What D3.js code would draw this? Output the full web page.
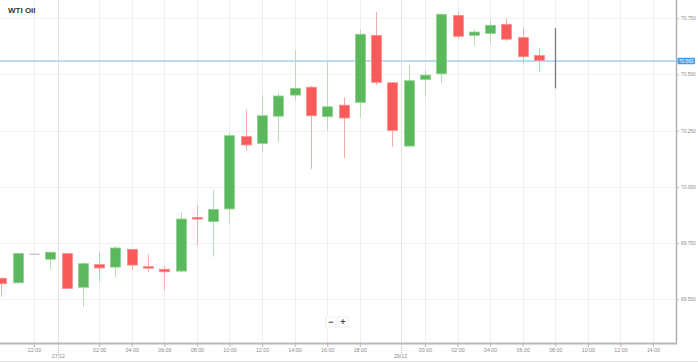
<!DOCTYPE html>
<html>
<head>
<meta charset="utf-8">
<script src="https://cdn.jsdelivr.net/npm/d3@7"></script>
<style>
  html, body { margin: 0; padding: 0; background: #fff; }
  svg { display: block; font-family: "Liberation Sans", Arial, sans-serif; }
</style>
</head>
<body>
<svg id="chart" width="698" height="362"></svg>
<script>
// ---- data ----
const title = "WTI Oil";
const times = ["20:00","21:00","22:00","23:00","00:00","01:00","02:00","03:00","04:00","05:00",
               "06:00","07:00","08:00","09:00","10:00","11:00","12:00","13:00","14:00","15:00",
               "16:00","17:00","18:00","19:00","20:00","23:00","00:00","01:00","02:00","03:00",
               "04:00","05:00","06:00","07:00","08:00"];
const open  = [69.592,69.572,69.702,69.677,69.702,69.552,69.653,69.642,69.721,69.644,
               69.632,69.624,69.863,69.845,69.901,70.223,70.193,70.314,70.408,70.443,
               70.312,70.363,70.376,70.674,70.463,70.181,70.478,70.503,70.763,70.674,
               70.683,70.723,70.664,70.584,70.560];
const high  = [69.595,69.705,69.702,69.710,69.704,69.666,69.708,69.736,69.722,69.699,
               69.647,69.887,69.918,69.988,70.241,70.342,70.408,70.419,70.609,70.450,
               70.560,70.398,70.701,70.778,70.465,70.542,70.520,70.770,70.778,70.701,
               70.739,70.750,70.710,70.619,70.706];
const low   = [69.510,69.570,69.702,69.633,69.545,69.465,69.579,69.598,69.629,69.619,
               69.540,69.619,69.737,69.688,69.837,70.160,70.153,70.199,70.383,70.080,
               70.249,70.128,70.309,70.453,70.178,70.179,70.401,70.461,70.659,70.630,
               70.639,70.650,70.550,70.511,70.438];
const close = [69.568,69.703,69.702,69.708,69.547,69.657,69.638,69.727,69.651,69.637,
               69.621,69.856,69.856,69.899,70.227,70.186,70.316,70.404,70.438,70.316,
               70.356,70.306,70.679,70.465,70.251,70.472,70.497,70.768,70.670,70.689,
               70.719,70.657,70.579,70.563,70.560];
const currentPrice = 70.560;
const yTicks = [69.5, 69.75, 70.0, 70.25, 70.5, 70.75];
const xTickIndex  = [2, 6, 8, 10, 12, 14, 16, 18, 20, 22, 26, 28, 30, 32, 34, 36, 38, 40];
const xTickLabels = ["22:00","02:00","04:00","06:00","08:00","10:00","12:00","14:00","16:00","18:00",
                     "00:00","02:00","04:00","06:00","08:00","10:00","12:00","14:00"];
const dayIndex  = [3.5, 24.5];
const dayLabels = ["27/12", "29/12"];

// ---- layout ----
const svg = d3.select("#chart");
const plotW = 676, plotH = 343;
const x = d3.scaleLinear().domain([-0.086, 41.41]).range([0, plotW]);
const y = d3.scaleLinear().domain([69.3038, 70.8316]).range([plotH, 0]);

const candles = times.map((t, i) => ({i, t, o: open[i], h: high[i], l: low[i], c: close[i]}));

// grid
const grid = svg.append("g");
grid.selectAll("line.hy").data(yTicks).join("line")
  .attr("x1", 0).attr("x2", plotW)
  .attr("y1", d => Math.round(y(d)) + 0.5).attr("y2", d => Math.round(y(d)) + 0.5)
  .attr("stroke", "#f2f2f2").attr("stroke-width", 1);
grid.selectAll("line.vx").data(xTickIndex).join("line")
  .attr("x1", d => Math.round(x(d)) + 0.5).attr("x2", d => Math.round(x(d)) + 0.5)
  .attr("y1", 0).attr("y2", plotH)
  .attr("stroke", "#efefef").attr("stroke-width", 1);
grid.selectAll("line.vd").data(dayIndex).join("line")
  .attr("x1", d => Math.round(x(d)) + 0.5).attr("x2", d => Math.round(x(d)) + 0.5)
  .attr("y1", 0).attr("y2", plotH)
  .attr("stroke", "#e4e4e4").attr("stroke-width", 1);

// current price line
svg.append("line")
  .attr("x1", 0).attr("x2", plotW)
  .attr("y1", y(currentPrice)).attr("y2", y(currentPrice))
  .attr("stroke", "#bcdcf5").attr("stroke-width", 2);

// candles
const colorOf = d => d.c > d.o ? "up" : (d.c < d.o ? "down" : "flat");
const bodyFill = {up: "#5cb85c", down: "#f95a5a", flat: "#999"};
const bodyStroke = {up: "#8fd08f", down: "#fb8d8d", flat: "#999"};
const wickCol = {up: "#b5dfb5", down: "#f9aaaa", flat: "#777"};
const bw = 10;
const cg = svg.append("g");
cg.selectAll("line.wick").data(candles).join("line")
  .attr("x1", d => Math.round(x(d.i)) + 0.5).attr("x2", d => Math.round(x(d.i)) + 0.5)
  .attr("y1", d => y(d.h)).attr("y2", d => y(d.l))
  .attr("stroke", d => wickCol[colorOf(d)])
  .attr("stroke-width", d => colorOf(d) === "flat" ? 1.3 : 1);
cg.selectAll("rect.body").data(candles.filter(d => colorOf(d) !== "flat" || d.h === d.l)).join("rect")
  .attr("x", d => Math.round(x(d.i)) - bw / 2 + 0.5)
  .attr("y", d => y(Math.max(d.o, d.c)))
  .attr("width", bw)
  .attr("height", d => Math.max(1.2, Math.abs(y(d.o) - y(d.c))))
  .attr("fill", d => d.h === d.l ? "#bbb" : bodyFill[colorOf(d)])
  .attr("stroke", d => d.h === d.l ? "none" : bodyStroke[colorOf(d)])
  .attr("stroke-width", 0.8);

// axes frame
svg.append("line").attr("x1", plotW + 0.5).attr("x2", plotW + 0.5).attr("y1", 0).attr("y2", plotH + 1)
  .attr("stroke", "#a8a8a8").attr("stroke-width", 1.3);
svg.append("line").attr("x1", 0).attr("x2", plotW + 1).attr("y1", plotH + 0.5).attr("y2", plotH + 0.5)
  .attr("stroke", "#b8b8b8").attr("stroke-width", 2);

// y axis
const yAxis = d3.axisRight(y).tickValues(yTicks).tickFormat(d3.format(".3f")).tickSize(3).tickPadding(2);
const yg = svg.append("g").attr("transform", `translate(${plotW},0)`).call(yAxis);
yg.select(".domain").remove();
yg.selectAll(".tick line").attr("stroke", "#bbb");
yg.selectAll(".tick text").attr("fill", "#8a8a8a").attr("font-size", 4.8);

// x axis
const xAxis = d3.axisBottom(x).tickValues(xTickIndex).tickFormat((d, k) => xTickLabels[k]).tickSize(3).tickPadding(1);
const xg = svg.append("g").attr("transform", `translate(0,${plotH + 1})`).call(xAxis);
xg.select(".domain").remove();
xg.selectAll(".tick line").attr("stroke", "#bbb");
xg.selectAll(".tick text").attr("fill", "#8a8a8a").attr("font-size", 5.3);

// day separators below axis
const dg = svg.append("g");
dg.selectAll("line").data(dayIndex).join("line")
  .attr("x1", d => Math.round(x(d)) + 0.5).attr("x2", d => Math.round(x(d)) + 0.5)
  .attr("y1", plotH + 1).attr("y2", plotH + 10)
  .attr("stroke", "#bbb").attr("stroke-dasharray", "1,1");
dg.selectAll("text").data(dayIndex).join("text")
  .attr("x", d => x(d)).attr("y", plotH + 15)
  .attr("text-anchor", "middle").attr("fill", "#8a8a8a").attr("font-size", 5.3)
  .text((d, k) => dayLabels[k]);

// current price badge
const by = y(currentPrice);
svg.append("rect").attr("x", 677.5).attr("y", by - 3.3).attr("width", 17.5).attr("height", 6.6)
  .attr("rx", 1).attr("fill", "#3d9ef0");
svg.append("text").attr("x", 686.2).attr("y", by + 1.7).attr("text-anchor", "middle")
  .attr("fill", "#fff").attr("font-size", 4.8).text(d3.format(".3f")(currentPrice));

// title
svg.append("text").attr("x", 8).attr("y", 12.8).attr("font-size", 8).attr("font-weight", "bold")
  .attr("fill", "#333").text(title);

// zoom buttons
const zb = svg.append("g");
[["−", 331], ["+", 343]].forEach(([s, cx]) => {
  zb.append("rect").attr("x", cx - 5).attr("y", 317).attr("width", 10).attr("height", 10)
    .attr("fill", "#fff").attr("stroke", "#f0f0f0");
  zb.append("text").attr("x", cx).attr("y", 325).attr("text-anchor", "middle")
    .attr("font-size", 9).attr("font-weight", "bold").attr("fill", "#444").text(s);
});

// bottom border
svg.append("line").attr("x1", 0).attr("x2", 698).attr("y1", 361.5).attr("y2", 361.5)
  .attr("stroke", "#d8d8d8").attr("stroke-width", 1);
</script>
</body>
</html>
